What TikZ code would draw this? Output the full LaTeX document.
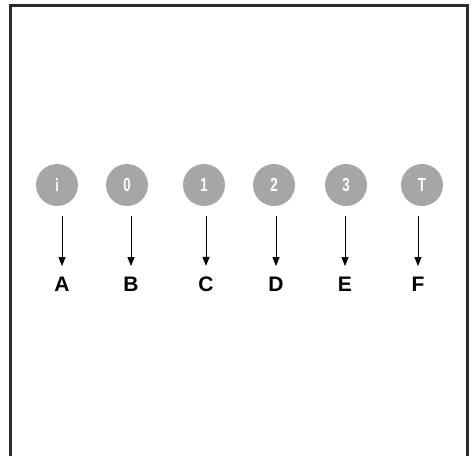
\documentclass[tikz,border=0pt]{standalone}
\usepackage{fontspec}
\setmainfont{Liberation Sans}
\usetikzlibrary{arrows.meta,positioning}
\definecolor{diskgray}{HTML}{A6A6A6}
\definecolor{framegray}{HTML}{2B2B2B}
\newcommand{\diskglyph}[1]{\scalebox{0.7}[1]{\fontsize{19}{19}\selectfont\bfseries #1}}
\begin{document}
\begin{tikzpicture}[
  x=1pt, y=-1pt,
  disk/.style={circle, fill=diskgray, text=white, minimum size=42pt, inner sep=0pt, outer sep=0pt},
  letter/.style={inner sep=0pt, font=\fontsize{21}{21}\selectfont\bfseries},
  pointer/.style={-{Triangle[length=9pt,width=7pt]}, line width=0.9pt, shorten <=10pt, shorten >=11pt},
  >=Stealth
]
  \useasboundingbox (0,0) rectangle (472,456);
  % open frame
  \draw[framegray, line width=3pt] (10.5,456) -- (10.5,5.5) -- (467.5,5.5) -- (467.5,456);
  \node[disk] (d1) at (57,185)  {\diskglyph{¡}};
  \node[disk] (d2) at (127,185) {\diskglyph{0}};
  \node[disk] (d3) at (204,185) {\diskglyph{1}};
  \node[disk] (d4) at (274,185) {\diskglyph{2}};
  \node[disk] (d5) at (346,185) {\diskglyph{3}};
  \node[disk] (d6) at (422,185) {\diskglyph{T}};
  \node[letter] (l1) at (62,284.5)  {A};
  \node[letter] (l2) at (131,284.5) {B};
  \node[letter] (l3) at (206,284.5) {C};
  \node[letter] (l4) at (276,284.5) {D};
  \node[letter] (l5) at (345,284.5) {E};
  \node[letter] (l6) at (418,284.5) {F};
  % arrows down to the letters
  \draw[pointer] (d1.south -| l1) -- (l1.north);
  \draw[pointer] (d2.south -| l2) -- (l2.north);
  \draw[pointer] (d3.south -| l3) -- (l3.north);
  \draw[pointer] (d4.south -| l4) -- (l4.north);
  \draw[pointer] (d5.south -| l5) -- (l5.north);
  \draw[pointer] (d6.south -| l6) -- (l6.north);
\end{tikzpicture}
\end{document}
